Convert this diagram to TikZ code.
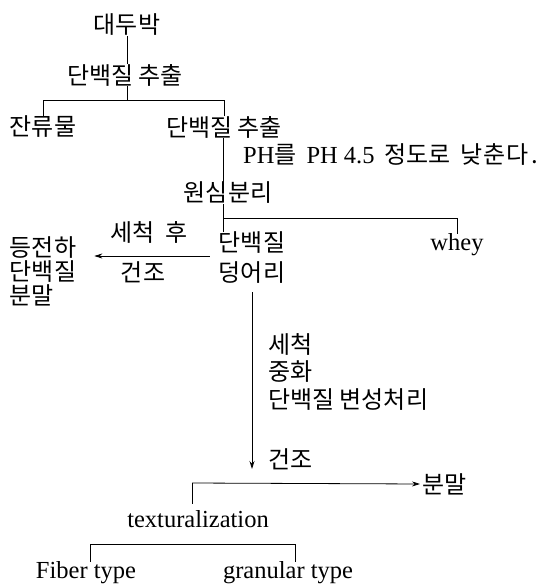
\documentclass[tikz,border=0pt]{standalone}
\usepackage{fontspec}
\setmainfont{Liberation Serif}
\newfontfamily\krfont{Noto Sans CJK KR}
\usetikzlibrary{arrows.meta}
\newcommand\kor[1]{{\krfont\fontsize{24}{28}\selectfont #1}}
\begin{document}
\begin{tikzpicture}[x=1pt,y=-1pt,
  kr/.style={inner sep=0pt, font=\krfont\fontsize{24}{28}\selectfont},
  krm/.style={inner sep=0pt, align=left, font=\krfont\fontsize{24}{#1}\selectfont},
  la/.style={inner sep=0pt, font=\fontsize{24.5}{28}\selectfont},
  ln/.style={line width=0.8pt},
  arr/.style={line width=0.8pt, -{Stealth[length=8pt,width=5pt]}}]
\useasboundingbox (0,0) rectangle (554,584);
% nodes
\node[kr] (a) at (127,25) {대두박};
\node[kr] (b) at (125,75) {단백질 추출};
\node[kr] (c) at (43,127) {잔류물};
\node[kr] (d) at (224,127) {단백질 추출};
\node[la, anchor=west] (e) at (243,155) {PH\kor{를}\hspace{10pt}PH\hspace{6pt}4.5\hspace{10pt}\kor{정도로}\hspace{10pt}\kor{낮\kern1pt 춘\kern1pt 다\kern2pt .}};
\node[kr] (f) at (228,193) {원심분리};
\node[krm=30] (g) at (252,258) {단백질\\덩어리};
\node[la] (h) at (457,245) {whey};
\node[krm=24] (i) at (43,271) {등전하\\단백질\\분말};
\node[kr] (l1) at (149,232) {세척\hspace{10pt}후};
\node[kr] (l2) at (143,272) {건조};
\node[kr, anchor=west] (l3) at (268,344) {세척};
\node[kr, anchor=west] (l4) at (268,372) {중화};
\node[kr, anchor=west] (l5) at (268,400) {단백질 변성처리};
\node[kr, anchor=west] (l6) at (268,459) {건조};
\node[kr, anchor=west] (m) at (422,484) {분말};
\node[la] (n) at (198,519) {texturalization};
\node[la] (o) at (86,573) {Fiber type};
\node[la] (p) at (288,573) {granular type};
% junctions
\coordinate (j1) at (127,100);
\coordinate (j2) at (223,218);
\coordinate (j3) at (192,483);
\coordinate (j4) at (90,544);
\coordinate (j5) at (295,544);
% connectors
\draw[ln] (a.south) -- (a.south |- b.north);
\draw[ln] (b.south -| j1) -- (j1);
\draw[ln] (c.north) -- (c.north |- j1) -- (d.north |- j1) -- (d.north);
\draw[ln] (d.south -| j2) -- (f.north -| j2);
\draw[ln] (f.south -| j2) -- (g.north -| j2);
\draw[ln] (j2) -- (j2 -| h.north) -- (h.north);
\draw[arr, shorten <=9pt, shorten >=18pt] ([yshift=2pt]g.west) -- ([yshift=2pt]g.west -| i.east);
\draw[arr, shorten <=8pt, shorten >=14pt] (g.south) -- (g.south |- j3);
\draw[arr, shorten >=2pt] (j3) -- (m.west);
\draw[ln, shorten >=6pt] (j3) -- (j3 |- n.north);
\draw[ln] (j4 |- o.north) -- (j4) -- (j5) -- (j5 |- p.north);
\end{tikzpicture}
\end{document}
